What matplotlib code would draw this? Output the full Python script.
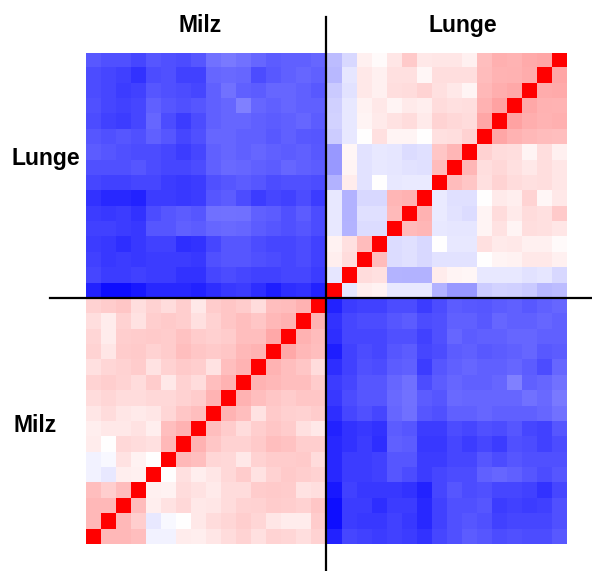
import numpy as np
import matplotlib
matplotlib.use("Agg")
import matplotlib.pyplot as plt

# Correlation blocks, rows listed top to bottom as shown in the picture
# top-left block: rows = Lunge samples, columns = Milz samples
lunge_milz = [
    [-0.65, -0.68, -0.68, -0.72, -0.66, -0.68, -0.70, -0.66, -0.55, -0.52, -0.55, -0.60, -0.64, -0.62, -0.62, -0.60],
    [-0.70, -0.72, -0.75, -0.80, -0.70, -0.68, -0.74, -0.74, -0.60, -0.58, -0.60, -0.70, -0.65, -0.62, -0.60, -0.62],
    [-0.70, -0.72, -0.76, -0.74, -0.66, -0.68, -0.70, -0.72, -0.62, -0.55, -0.62, -0.64, -0.60, -0.60, -0.62, -0.65],
    [-0.68, -0.72, -0.74, -0.72, -0.62, -0.66, -0.68, -0.66, -0.62, -0.60, -0.50, -0.60, -0.62, -0.60, -0.62, -0.62],
    [-0.70, -0.74, -0.76, -0.72, -0.60, -0.70, -0.76, -0.70, -0.62, -0.60, -0.60, -0.62, -0.64, -0.62, -0.60, -0.64],
    [-0.66, -0.68, -0.66, -0.68, -0.62, -0.66, -0.72, -0.68, -0.60, -0.60, -0.62, -0.62, -0.65, -0.62, -0.65, -0.66],
    [-0.64, -0.66, -0.68, -0.70, -0.70, -0.72, -0.76, -0.72, -0.62, -0.60, -0.62, -0.60, -0.62, -0.64, -0.62, -0.65],
    [-0.68, -0.68, -0.68, -0.66, -0.70, -0.72, -0.72, -0.70, -0.62, -0.58, -0.60, -0.62, -0.64, -0.60, -0.62, -0.64],
    [-0.72, -0.74, -0.74, -0.72, -0.72, -0.76, -0.78, -0.76, -0.68, -0.66, -0.64, -0.66, -0.70, -0.68, -0.68, -0.70],
    [-0.80, -0.84, -0.84, -0.86, -0.76, -0.76, -0.78, -0.76, -0.66, -0.64, -0.70, -0.76, -0.72, -0.74, -0.70, -0.76],
    [-0.76, -0.78, -0.76, -0.80, -0.70, -0.66, -0.64, -0.66, -0.56, -0.55, -0.56, -0.62, -0.64, -0.68, -0.64, -0.70],
    [-0.74, -0.74, -0.76, -0.78, -0.66, -0.66, -0.62, -0.64, -0.60, -0.58, -0.60, -0.64, -0.66, -0.68, -0.66, -0.70],
    [-0.76, -0.78, -0.82, -0.78, -0.74, -0.74, -0.82, -0.80, -0.72, -0.66, -0.66, -0.70, -0.72, -0.72, -0.70, -0.74],
    [-0.74, -0.78, -0.76, -0.78, -0.76, -0.76, -0.76, -0.78, -0.68, -0.66, -0.66, -0.68, -0.70, -0.72, -0.70, -0.74],
    [-0.72, -0.76, -0.76, -0.74, -0.76, -0.76, -0.80, -0.80, -0.72, -0.70, -0.72, -0.74, -0.74, -0.72, -0.72, -0.76],
    [-0.86, -0.94, -0.94, -0.90, -0.84, -0.84, -0.84, -0.86, -0.82, -0.78, -0.76, -0.82, -0.88, -0.82, -0.80, -0.86],
]

# top-right block: rows = Lunge samples, columns = Lunge samples
lunge_lunge = [
    [-0.28, -0.15, 0.06, 0.01, 0.09, 0.22, 0.10, 0.11, 0.11, 0.06, 0.25, 0.31, 0.29, 0.33, 0.35, 1.00],
    [-0.30, -0.11, 0.10, 0.06, 0.12, 0.14, 0.04, 0.16, 0.15, 0.14, 0.27, 0.30, 0.30, 0.33, 1.00, 0.35],
    [-0.22, -0.13, 0.10, 0.07, 0.15, 0.15, 0.18, 0.12, 0.06, 0.04, 0.28, 0.33, 0.35, 1.00, 0.32, 0.33],
    [-0.22, -0.10, 0.05, 0.10, 0.03, 0.10, 0.08, 0.15, 0.12, 0.13, 0.30, 0.38, 1.00, 0.33, 0.30, 0.30],
    [-0.20, -0.10, 0.04, 0.08, 0.12, 0.15, 0.10, 0.18, 0.15, 0.12, 0.35, 1.00, 0.35, 0.30, 0.28, 0.30],
    [-0.20, -0.10, 0.00, 0.12, 0.03, 0.03, 0.00, 0.14, 0.14, 0.15, 1.00, 0.35, 0.30, 0.28, 0.25, 0.25],
    [-0.42, 0.03, -0.11, -0.10, -0.10, -0.17, -0.10, 0.25, 0.30, 1.00, 0.20, 0.15, 0.12, 0.05, 0.12, 0.06],
    [-0.42, 0.05, -0.10, -0.10, -0.10, -0.12, -0.12, 0.25, 1.00, 0.27, 0.12, 0.15, 0.12, 0.12, 0.10, 0.08],
    [-0.30, 0.07, -0.10, 0.00, -0.08, -0.08, -0.08, 1.00, 0.28, 0.20, 0.10, 0.15, 0.13, 0.12, 0.10, 0.08],
    [-0.10, -0.35, -0.15, -0.15, 0.27, 0.30, 1.00, -0.08, -0.12, -0.15, 0.00, 0.07, 0.05, 0.15, 0.03, 0.08],
    [-0.10, -0.35, -0.12, -0.12, 0.27, 1.00, 0.30, -0.08, -0.10, -0.10, 0.05, 0.12, 0.07, 0.12, 0.10, 0.20],
    [-0.10, -0.33, -0.15, -0.15, 1.00, 0.27, 0.30, -0.10, -0.10, -0.10, 0.05, 0.10, 0.05, 0.10, 0.12, 0.10],
    [0.05, 0.12, 0.25, 1.00, -0.12, -0.12, -0.15, 0.00, -0.08, -0.08, 0.12, 0.08, 0.08, 0.05, 0.05, 0.03],
    [0.05, 0.15, 1.00, 0.27, -0.12, -0.12, -0.15, -0.12, -0.12, -0.12, 0.00, 0.05, 0.05, 0.08, 0.08, 0.05],
    [-0.10, 1.00, 0.12, 0.12, -0.25, -0.25, -0.25, 0.08, 0.04, 0.04, -0.08, -0.08, -0.08, -0.10, -0.08, -0.15],
    [1.00, -0.10, 0.08, 0.05, -0.08, -0.08, -0.08, -0.30, -0.38, -0.38, -0.20, -0.15, -0.15, -0.20, -0.25, -0.25],
]

# bottom-left block: rows = Milz samples, columns = Milz samples
milz_milz = [
    [0.20, 0.20, 0.25, 0.15, 0.20, 0.15, 0.18, 0.08, 0.22, 0.25, 0.20, 0.12, 0.25, 0.25, 0.30, 1.00],
    [0.10, 0.05, 0.20, 0.10, 0.20, 0.22, 0.20, 0.12, 0.15, 0.25, 0.25, 0.22, 0.25, 0.30, 1.00, 0.30],
    [0.20, 0.10, 0.20, 0.25, 0.20, 0.20, 0.25, 0.20, 0.15, 0.18, 0.25, 0.25, 0.35, 1.00, 0.30, 0.28],
    [0.18, 0.12, 0.20, 0.20, 0.15, 0.20, 0.25, 0.22, 0.22, 0.25, 0.30, 0.28, 1.00, 0.33, 0.30, 0.25],
    [0.12, 0.20, 0.20, 0.22, 0.10, 0.20, 0.22, 0.18, 0.08, 0.25, 0.30, 1.00, 0.30, 0.25, 0.22, 0.15],
    [0.18, 0.20, 0.15, 0.12, 0.20, 0.10, 0.20, 0.15, 0.25, 0.30, 1.00, 0.28, 0.25, 0.25, 0.25, 0.20],
    [0.15, 0.20, 0.15, 0.12, 0.15, 0.15, 0.15, 0.20, 0.30, 1.00, 0.30, 0.25, 0.20, 0.22, 0.20, 0.20],
    [0.08, 0.10, 0.08, 0.06, 0.12, 0.20, 0.22, 0.25, 1.00, 0.28, 0.25, 0.15, 0.20, 0.22, 0.20, 0.18],
    [0.08, 0.08, 0.08, 0.15, 0.05, 0.25, 0.30, 1.00, 0.25, 0.20, 0.12, 0.20, 0.22, 0.20, 0.12, 0.10],
    [0.10, 0.00, 0.15, 0.15, 0.12, 0.25, 1.00, 0.30, 0.22, 0.20, 0.15, 0.20, 0.25, 0.22, 0.18, 0.20],
    [-0.05, -0.05, 0.12, 0.05, 0.00, 1.00, 0.30, 0.25, 0.12, 0.15, 0.08, 0.15, 0.20, 0.20, 0.20, 0.12],
    [-0.05, -0.10, 0.05, 0.05, 1.00, 0.00, 0.12, 0.08, 0.08, 0.15, 0.20, 0.12, 0.20, 0.22, 0.18, 0.15],
    [0.25, 0.20, 0.28, 1.00, 0.06, 0.05, 0.12, 0.08, 0.10, 0.15, 0.15, 0.18, 0.22, 0.15, 0.12, 0.10],
    [0.30, 0.28, 1.00, 0.25, 0.08, 0.10, 0.15, 0.10, 0.12, 0.12, 0.18, 0.15, 0.20, 0.18, 0.15, 0.20],
    [0.28, 1.00, 0.28, 0.18, -0.08, 0.00, 0.00, 0.10, 0.18, 0.12, 0.18, 0.12, 0.08, 0.05, 0.10, 0.20],
    [1.00, 0.28, 0.25, 0.25, -0.05, -0.05, 0.05, 0.05, 0.12, 0.12, 0.15, 0.12, 0.15, 0.12, 0.15, 0.15],
]

group_names = ["Milz", "Lunge"]

# bottom-right block is the same correlations seen from the other side
A = np.array(lunge_milz)
milz_lunge = A[::-1, ::-1].T

display = np.block([[A, np.array(lunge_lunge)],
                    [np.array(milz_milz), milz_lunge]])

# make it a proper symmetric correlation matrix (rows counted from the bottom)
corr = display[::-1]
corr = (corr + corr.T) / 2
display = corr[::-1]

n = display.shape[0]
half = n // 2

W, H = 592, 571
fig = plt.figure(figsize=(W / 100, H / 100), dpi=100)
x0, x1, y0, y1 = 85.5, 566, 52.5, 544
ax = fig.add_axes([x0 / W, 1 - y1 / H, (x1 - x0) / W, (y1 - y0) / H])
ax.imshow(display, cmap="bwr", vmin=-1, vmax=1, aspect="auto",
          interpolation="nearest", extent=(0, n, n, 0))
ax.set_xlim(0, n)
ax.set_ylim(n, 0)
ax.axis("off")

# cross dividing the tissues
cw = (x1 - x0) / n
ch = (y1 - y0) / n
ax.plot([half, half], [(17 - y0) / ch, (H - y0) / ch], color="black", lw=1.6, clip_on=False)
ax.plot([(50 - x0) / cw, (W - x0) / cw], [half, half], color="black", lw=1.6, clip_on=False)

# group labels
font = dict(family="Liberation Sans", fontweight="bold", fontsize=16.5, color="black")
fig.text(200 / W, 1 - 32 / H, group_names[0], ha="center", va="baseline", **font)
fig.text(463 / W, 1 - 32 / H, group_names[1], ha="center", va="baseline", **font)
fig.text(46 / W, 1 - 165 / H, group_names[1], ha="center", va="baseline", **font)
fig.text(35 / W, 1 - 432 / H, group_names[0], ha="center", va="baseline", **font)

plt.savefig("out.png", dpi=100)
